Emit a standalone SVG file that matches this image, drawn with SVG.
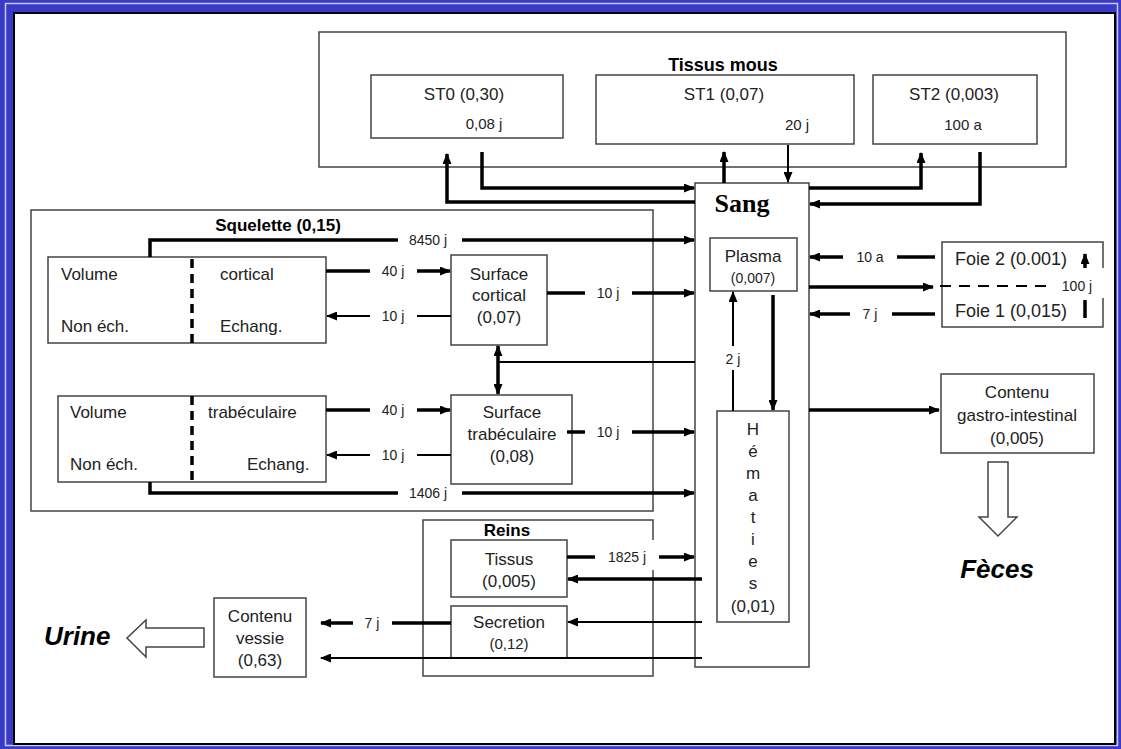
<svg xmlns="http://www.w3.org/2000/svg" width="1121" height="749" viewBox="0 0 1121 749">
<defs>
<style>
.box{fill:none;stroke:#444;stroke-width:1.5}
.t{font-family:"Liberation Sans",Arial,sans-serif;font-size:17px;fill:#222}
.s{font-family:"Liberation Sans",Arial,sans-serif;font-size:14px;fill:#222}
.b{font-family:"Liberation Sans",Arial,sans-serif;font-size:17px;font-weight:bold;fill:#000}
.bi{font-family:"Liberation Sans",Arial,sans-serif;font-size:26px;font-weight:bold;font-style:italic;fill:#000}
.m{text-anchor:middle}
.k{fill:none;stroke:#000;stroke-width:3.5}
.n{fill:none;stroke:#000;stroke-width:2}
.e{marker-end:url(#ah)}
.hol{fill:#fff;stroke:#444;stroke-width:1.5}
</style>
<marker id="ah" markerWidth="11" markerHeight="9" refX="10" refY="4.5" orient="auto-start-reverse" markerUnits="userSpaceOnUse"><path d="M0,0 L11,4.5 L0,9 z" fill="#000"/></marker>
</defs>
<rect x="0" y="0" width="1121" height="749" fill="#3a3ac8"/>
<rect x="5.5" y="3.5" width="1112" height="742" fill="none" stroke="#c8c8f4" stroke-width="1.5"/>
<rect x="14" y="13" width="1101" height="731" fill="#fff" stroke="#000" stroke-width="2"/>

<g id="tissus-mous">
<rect class="box" x="319" y="32" width="747" height="135"/>
<text class="b m" x="723" y="71" style="font-size:18px">Tissus mous</text>
</g>
<g id="st0">
<rect class="box" x="371" y="75" width="192" height="63"/>
<text class="t m" x="464" y="100">ST0 (0,30)</text>
<text class="s m" x="484" y="129" style="font-size:15px">0,08 j</text>
</g>
<g id="st1">
<rect class="box" x="596" y="75" width="258" height="69"/>
<text class="t m" x="724" y="100">ST1 (0,07)</text>
<text class="s m" x="797" y="130" style="font-size:15px">20 j</text>
</g>
<g id="st2">
<rect class="box" x="873" y="75" width="164" height="69"/>
<text class="t m" x="954" y="100">ST2 (0,003)</text>
<text class="s m" x="963" y="130" style="font-size:15px">100 a</text>
</g>

<g id="sang">
<rect class="box" x="695" y="183" width="114" height="484"/>
<text x="742" y="212" text-anchor="middle" style="font-family:'Liberation Serif','Times New Roman',serif;font-size:26px;font-weight:bold">Sang</text>
</g>
<g id="plasma">
<rect class="box" x="710" y="238" width="87" height="53"/>
<text class="t m" x="753" y="262">Plasma</text>
<text class="s m" x="753" y="283">(0,007)</text>
</g>
<g id="hematies">
<rect class="box" x="717" y="411" width="72" height="211"/>
<text class="t m" x="753" y="435">H</text>
<text class="t m" x="753" y="457">é</text>
<text class="t m" x="753" y="479">m</text>
<text class="t m" x="753" y="501">a</text>
<text class="t m" x="753" y="523">t</text>
<text class="t m" x="753" y="545">i</text>
<text class="t m" x="753" y="567">e</text>
<text class="t m" x="753" y="589">s</text>
<text class="t m" x="753" y="612">(0,01)</text>
</g>

<g id="squelette">
<rect class="box" x="31" y="210" width="622" height="301"/>
<text class="b m" x="278" y="231">Squelette (0,15)</text>
</g>
<g id="volume-cortical">
<rect class="box" x="48" y="257" width="278" height="86"/>
<text class="t" x="61" y="280">Volume</text>
<text class="t" x="220" y="280">cortical</text>
<text class="t" x="61" y="332">Non éch.</text>
<text class="t" x="220" y="332">Echang.</text>
<line x1="192" y1="259" x2="192" y2="343" stroke="#000" stroke-width="3.5" stroke-dasharray="9,6"/>
</g>
<g id="surface-cortical">
<rect class="box" x="451" y="255" width="96" height="90"/>
<text class="t m" x="499" y="280">Surface</text>
<text class="t m" x="499" y="301">cortical</text>
<text class="t m" x="499" y="323">(0,07)</text>
</g>
<g id="volume-trabeculaire">
<rect class="box" x="58" y="396" width="268" height="86"/>
<text class="t" x="70" y="418">Volume</text>
<text class="t" x="208" y="418">trabéculaire</text>
<text class="t" x="70" y="470">Non éch.</text>
<text class="t" x="247" y="470">Echang.</text>
<line x1="192" y1="396" x2="192" y2="480" stroke="#000" stroke-width="3.5" stroke-dasharray="9,6"/>
</g>
<g id="surface-trabeculaire">
<rect class="box" x="451" y="395" width="121" height="89"/>
<text class="t m" x="512" y="418">Surface</text>
<text class="t m" x="512" y="440">trabéculaire</text>
<text class="t m" x="512" y="462">(0,08)</text>
</g>

<g id="reins">
<path class="box" d="M653,540 V520 H423 V676 H653 V570"/>
<text class="b m" x="507" y="536">Reins</text>
</g>
<g id="reins-tissus">
<rect class="box" x="451" y="540" width="116" height="57"/>
<text class="t m" x="509" y="565">Tissus</text>
<text class="t m" x="509" y="587">(0,005)</text>
</g>
<g id="secretion">
<rect class="box" x="451" y="606" width="116" height="52"/>
<text class="t m" x="509" y="628">Secretion</text>
<text class="s m" x="509" y="649" style="font-size:15px">(0,12)</text>
</g>
<g id="vessie">
<rect class="box" x="214" y="598" width="92" height="79"/>
<text class="t m" x="260" y="622">Contenu</text>
<text class="t m" x="260" y="644">vessie</text>
<text class="t m" x="260" y="666">(0,63)</text>
</g>
<g id="urine">
<path class="hol" d="M204,628 H146 V620 L127,638 L146,657 V647 H204 Z"/>
<text class="bi" x="44" y="645">Urine</text>
</g>

<g id="foie">
<path class="box" d="M1103,268 V242 H942 V327 H1103 V298"/>
<text class="t" x="955" y="265" style="font-size:18px">Foie 2 (0.001)</text>
<text class="t" x="955" y="317" style="font-size:18px">Foie 1 (0,015)</text>
</g>
<g id="gastro">
<rect class="box" x="941" y="374" width="153" height="79"/>
<text class="t m" x="1017" y="398">Contenu</text>
<text class="t m" x="1017" y="421">gastro-intestinal</text>
<text class="t m" x="1017" y="444">(0,005)</text>
</g>
<g id="feces">
<path class="hol" d="M988,462 H1008 V517 H1017 L998,536 L979,517 H988 Z"/>
<text class="bi m" x="997" y="578">Fèces</text>
</g>

<g id="connectors">
<path class="k e" d="M695,202 H447 V154"/>
<path class="k e" d="M482,152 V188 H694"/>
<path class="k e" d="M724,183 V152"/>
<path class="n e" d="M788,145 V182"/>
<path class="k e" d="M809,188 H921 V153"/>
<path class="k e" d="M980,152 V204 H810"/>
<path class="k" d="M150,257 V240 H398"/>
<path class="k e" d="M462,240 H694"/>
<text class="s m" x="428" y="245">8450 j</text>
<path class="k" d="M326,271 H370"/>
<path class="k e" d="M417,271 H450"/>
<text class="s m" x="393" y="276">40 j</text>
<path class="n e" d="M370,316 H327"/>
<path class="n" d="M417,316 H451"/>
<text class="s m" x="393" y="321">10 j</text>
<path class="k" d="M547,293 H585"/>
<path class="k e" d="M632,293 H694"/>
<text class="s m" x="608" y="298">10 j</text>
<path class="k e" d="M498,360 V346"/>
<path class="k e" d="M498,360 V394"/>
<path class="n" d="M498,362 H695"/>
<path class="k" d="M326,410 H370"/>
<path class="k e" d="M417,410 H450"/>
<text class="s m" x="393" y="415">40 j</text>
<path class="n e" d="M370,455 H327"/>
<path class="n" d="M417,455 H451"/>
<text class="s m" x="393" y="460">10 j</text>
<path class="k" d="M567,432 H585"/>
<path class="k e" d="M632,432 H694"/>
<text class="s m" x="608" y="437">10 j</text>
<path class="k" d="M150,482 V493 H398"/>
<path class="k e" d="M462,493 H694"/>
<text class="s m" x="428" y="498">1406 j</text>
<path class="n" d="M733,411 V370"/>
<path class="n e" d="M733,346 V292"/>
<text class="s m" x="733" y="364">2 j</text>
<path class="k e" d="M773,295 V410"/>
<path class="k" d="M567,557 H595"/>
<path class="k e" d="M659,557 H694"/>
<text class="s m" x="627" y="562">1825 j</text>
<path class="k e" d="M702,579 H568"/>
<path class="n e" d="M702,622 H568"/>
<path class="n e" d="M702,658 H321"/>
<path class="k" d="M451,623 H392"/>
<path class="k e" d="M353,623 H321"/>
<text class="s m" x="372" y="628">7 j</text>
<path class="k e" d="M843,257 H810"/>
<path class="k" d="M897,257 H935"/>
<text class="s m" x="870" y="262">10 a</text>
<path class="k e" d="M809,287 H933"/>
<path d="M940,286 H1048" fill="none" stroke="#000" stroke-width="2" stroke-dasharray="11,8"/>
<text class="s m" x="1077" y="291">100 j</text>
<path class="k e" d="M850,314 H810"/>
<path class="k" d="M892,314 H935"/>
<text class="s m" x="870" y="319">7 j</text>
<path class="k e" d="M1085,268 V254"/>
<path class="k" d="M1085,300 V318"/>
<path class="k e" d="M809,410 H939"/>
</g>
</svg>
